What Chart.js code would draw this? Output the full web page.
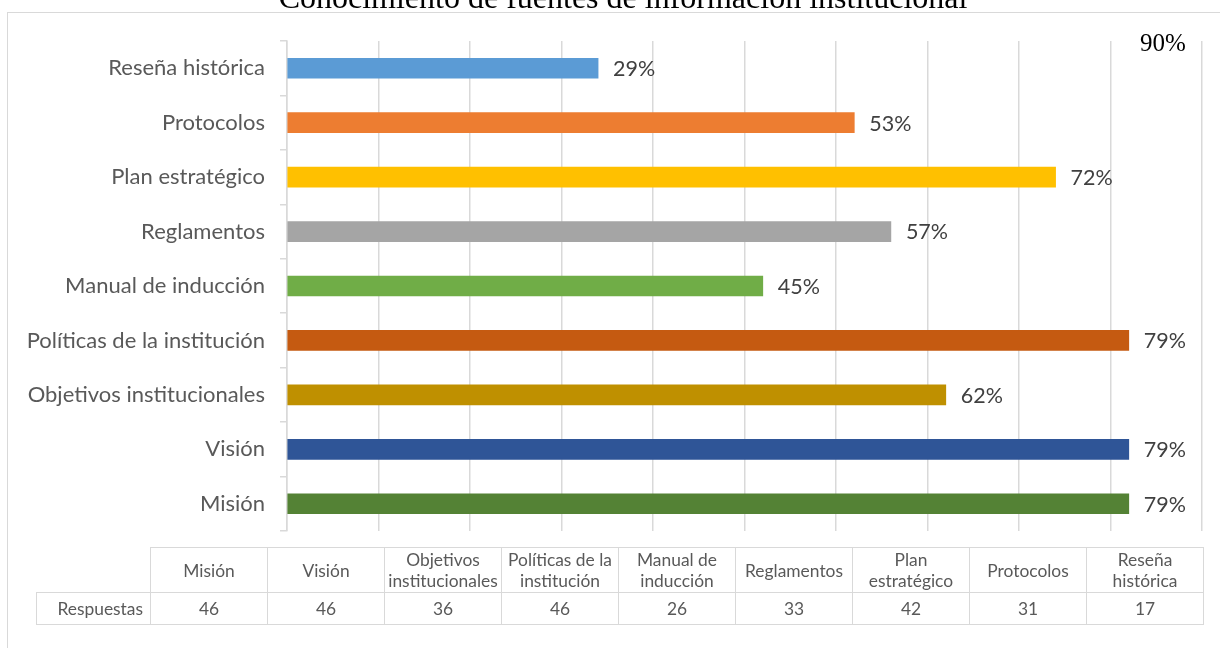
<!DOCTYPE html>
<html><head><meta charset="utf-8">
<script src="https://cdn.jsdelivr.net/npm/chart.js@4.4.0/dist/chart.umd.min.js"></script>
<style>
html,body{margin:0;padding:0;background:#fff;width:1220px;height:648px;overflow:hidden;}
#wrap{position:relative;width:1220px;height:648px;overflow:hidden;}
#frame{position:absolute;left:7px;top:12px;width:1240px;height:700px;border:1px solid #D9D9D9;box-sizing:border-box;}
canvas{position:absolute;left:0;top:0;}
#tbl{position:absolute;left:36px;top:547px;border-collapse:collapse;table-layout:fixed;font-family:Lato,"Open Sans",sans-serif;color:#595959;font-size:17.4px;}
#tbl td{border:1px solid #D9D9D9;text-align:center;vertical-align:middle;padding:0;line-height:21px;}
#tbl tr.h td{height:44px;}
#tbl tr.d td{height:31px;}
#tbl td.corner{border:none;}
#tbl td.rl{text-align:right;padding-right:7px;}
</style></head>
<body><div id="wrap">
<div id="frame"></div>
<canvas id="c" width="1220" height="648"></canvas>
<table id="tbl">
<colgroup><col style="width:114px"></colgroup>
<tr class="h" id="hrow"><td class="corner"></td></tr>
<tr class="d" id="drow"><td class="rl">Respuestas</td></tr>
</table>
</div>
<script>
// Data (table order)
const categories = ["Misión","Visión","Objetivos institucionales","Políticas de la institución","Manual de inducción","Reglamentos","Plan estratégico","Protocolos","Reseña histórica"];
const headerLines = [["Misión"],["Visión"],["Objetivos","institucionales"],["Políticas de la","institución"],["Manual de","inducción"],["Reglamentos"],["Plan","estratégico"],["Protocolos"],["Reseña","histórica"]];
const respuestas = [46,46,36,46,26,33,42,31,17];
const pctLabels = ["79%","79%","62%","79%","45%","57%","72%","53%","29%"];
const barColors = ["#548235","#2F5597","#BF9000","#C55A11","#70AD47","#A5A5A5","#FFC000","#ED7D31","#5B9BD5"];
const titleText = "Conocimiento de fuentes de información institucional";
const noteText = "90%";
const rowLabel = "Respuestas";

// Build table
const hrow = document.getElementById('hrow'), drow = document.getElementById('drow');
const cg = document.querySelector('#tbl colgroup');
categories.forEach((c,i)=>{
  const col=document.createElement('col'); col.style.width='117px'; cg.appendChild(col);
  const th=document.createElement('td'); th.innerHTML=headerLines[i].join('<br>'); hrow.appendChild(th);
  const td=document.createElement('td'); td.textContent=respuestas[i]; drow.appendChild(td);
});

const overlay = {
  id:'overlay',
  afterDatasetsDraw(chart){
    const ctx=chart.ctx, meta=chart.getDatasetMeta(0);
    ctx.save();
    ctx.font='21.5px Lato'; ctx.fillStyle='#404040'; ctx.textBaseline='middle'; ctx.textAlign='left';
    meta.data.forEach((bar,i)=>{ ctx.fillText(pctLabels[i], bar.x+15, bar.y+1); });
    ctx.restore();
  },
  afterDraw(chart){
    const ctx=chart.ctx;
    ctx.save();
    ctx.fillStyle='#000'; ctx.textBaseline='alphabetic';
    ctx.font='32px "Liberation Serif"'; ctx.textAlign='center';
    ctx.fillText(titleText, 623, 8);
    ctx.font='25px "Liberation Serif"'; ctx.textAlign='left';
    ctx.fillText(noteText, 1140, 51);
    ctx.restore();
  }
};

new Chart(document.getElementById('c'), {
  type:'bar',
  data:{ labels:categories, datasets:[{ data:respuestas, backgroundColor:barColors, barThickness:20 }] },
  options:{
    indexAxis:'y', responsive:false, animation:false,
    layout:{ padding:{ top:41, right:18, bottom:117, left:0 } },
    plugins:{ legend:{display:false}, tooltip:{enabled:false}, title:{display:false} },
    scales:{
      x:{ min:0, max:50, ticks:{ stepSize:5, display:false }, grid:{ color:'#D9D9D9', drawTicks:false, lineWidth:1.5 }, border:{ display:false }, afterFit(s){ s.height=0; } },
      y:{ reverse:true, grid:{ display:true, drawOnChartArea:false, drawTicks:true, tickLength:7, color:'#D9D9D9', offset:true, lineWidth:1.5 },
          border:{ display:true, color:'#D9D9D9', width:1.5 },
          ticks:{ font:{ family:'Lato', size:22 }, color:'#595959', padding:15 },
          afterFit(s){ s.width=287; } }
    }
  },
  plugins:[overlay]
});
</script>
</body></html>
